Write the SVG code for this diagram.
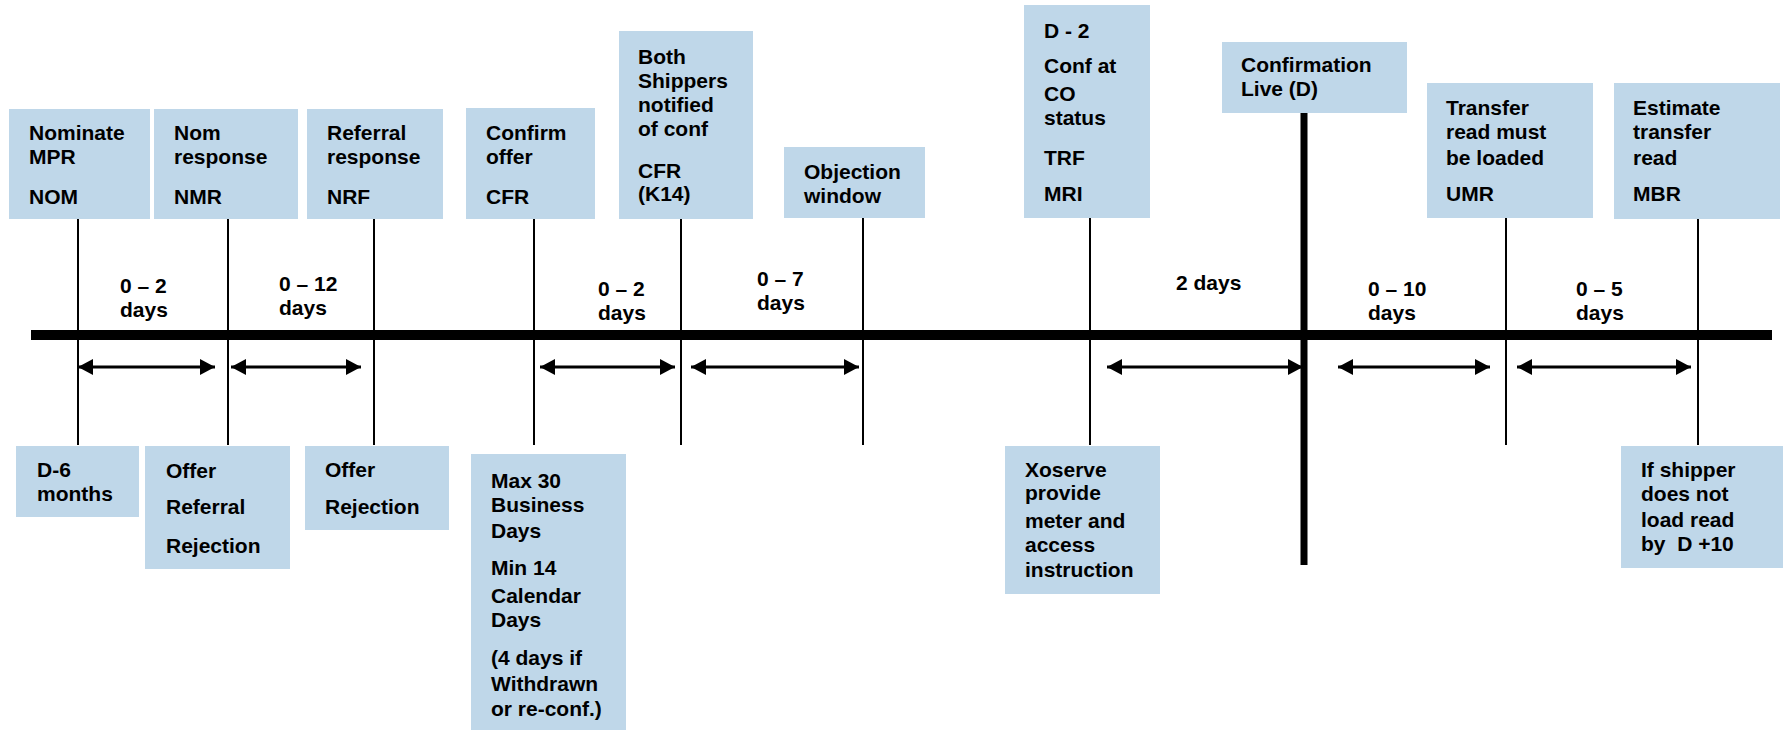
<svg xmlns="http://www.w3.org/2000/svg" width="1785" height="730" viewBox="0 0 1785 730">
<defs>
<style>
.box{fill:#BFD7E9;}
.t{font-family:"Liberation Sans",Arial,sans-serif;font-weight:bold;font-size:21px;fill:#000;}
.vl{stroke:#000;stroke-width:2;fill:none;}
.ar{stroke:#000;stroke-width:3;fill:none;marker-start:url(#ah);marker-end:url(#ah);}
</style>
<marker id="ah" markerUnits="userSpaceOnUse" markerWidth="15" markerHeight="16" viewBox="0 0 15 16" refX="15" refY="8" orient="auto-start-reverse">
<path d="M0,0 L15,8 L0,16 z" fill="#000"/>
</marker>
</defs>
<rect width="1785" height="730" fill="#fff"/>

<g id="connectors">
<line class="vl" x1="78" y1="218" x2="78" y2="445"/>
<line class="vl" x1="228" y1="218" x2="228" y2="445"/>
<line class="vl" x1="374" y1="218" x2="374" y2="445"/>
<line class="vl" x1="534" y1="218" x2="534" y2="445"/>
<line class="vl" x1="681" y1="218" x2="681" y2="445"/>
<line class="vl" x1="863" y1="218" x2="863" y2="445"/>
<line class="vl" x1="1090" y1="218" x2="1090" y2="445"/>
<line class="vl" x1="1506" y1="218" x2="1506" y2="445"/>
<line class="vl" x1="1698" y1="218" x2="1698" y2="445"/>
<rect id="timeline" x="31" y="330" width="1741" height="10" fill="#000"/>
<rect id="d-line" x="1300.5" y="112" width="7" height="453" fill="#000"/>
<line class="ar" x1="78" y1="367" x2="215" y2="367"/>
<line class="ar" x1="231" y1="367" x2="361" y2="367"/>
<line class="ar" x1="540" y1="367" x2="675" y2="367"/>
<line class="ar" x1="691" y1="367" x2="859" y2="367"/>
<line class="ar" x1="1107" y1="367" x2="1303" y2="367"/>
<line class="ar" x1="1338" y1="367" x2="1490" y2="367"/>
<line class="ar" x1="1517" y1="367" x2="1691" y2="367"/>
</g>

<g id="nom">
<rect class="box" x="9" y="109" width="141" height="110"/>
<text class="t" x="29" y="140">Nominate</text>
<text class="t" x="29" y="164">MPR</text>
<text class="t" x="29" y="204">NOM</text>
</g>
<g id="nmr">
<rect class="box" x="154" y="109" width="144" height="110"/>
<text class="t" x="174" y="140">Nom</text>
<text class="t" x="174" y="164">response</text>
<text class="t" x="174" y="204">NMR</text>
</g>
<g id="nrf">
<rect class="box" x="307" y="109" width="136" height="110"/>
<text class="t" x="327" y="140">Referral</text>
<text class="t" x="327" y="164">response</text>
<text class="t" x="327" y="204">NRF</text>
</g>
<g id="cfr">
<rect class="box" x="466" y="108" width="129" height="111"/>
<text class="t" x="486" y="140">Confirm</text>
<text class="t" x="486" y="164">offer</text>
<text class="t" x="486" y="204">CFR</text>
</g>
<g id="k14">
<rect class="box" x="619" y="31" width="134" height="188"/>
<text class="t" x="638" y="64">Both</text>
<text class="t" x="638" y="88">Shippers</text>
<text class="t" x="638" y="112">notified</text>
<text class="t" x="638" y="136">of conf</text>
<text class="t" x="638" y="178">CFR</text>
<text class="t" x="638" y="201">(K14)</text>
</g>
<g id="objection">
<rect class="box" x="784" y="147" width="141" height="71"/>
<text class="t" x="804" y="179">Objection</text>
<text class="t" x="804" y="203">window</text>
</g>
<g id="mri">
<rect class="box" x="1024" y="5" width="126" height="213"/>
<text class="t" x="1044" y="38">D - 2</text>
<text class="t" x="1044" y="73">Conf at</text>
<text class="t" x="1044" y="101">CO</text>
<text class="t" x="1044" y="125">status</text>
<text class="t" x="1044" y="165">TRF</text>
<text class="t" x="1044" y="201">MRI</text>
</g>
<g id="live">
<rect class="box" x="1222" y="42" width="185" height="71"/>
<text class="t" x="1241" y="72">Confirmation</text>
<text class="t" x="1241" y="96">Live (D)</text>
</g>
<g id="umr">
<rect class="box" x="1427" y="83" width="166" height="135"/>
<text class="t" x="1446" y="115">Transfer</text>
<text class="t" x="1446" y="139">read must</text>
<text class="t" x="1446" y="165">be loaded</text>
<text class="t" x="1446" y="201">UMR</text>
</g>
<g id="mbr">
<rect class="box" x="1614" y="83" width="166" height="136"/>
<text class="t" x="1633" y="115">Estimate</text>
<text class="t" x="1633" y="139">transfer</text>
<text class="t" x="1633" y="165">read</text>
<text class="t" x="1633" y="201">MBR</text>
</g>

<g id="intervals">
<text class="t" x="120" y="293">0 – 2</text>
<text class="t" x="120" y="317">days</text>
<text class="t" x="279" y="291">0 – 12</text>
<text class="t" x="279" y="315">days</text>
<text class="t" x="598" y="296">0 – 2</text>
<text class="t" x="598" y="320">days</text>
<text class="t" x="757" y="286">0 – 7</text>
<text class="t" x="757" y="310">days</text>
<text class="t" x="1176" y="290">2 days</text>
<text class="t" x="1368" y="296">0 – 10</text>
<text class="t" x="1368" y="320">days</text>
<text class="t" x="1576" y="296">0 – 5</text>
<text class="t" x="1576" y="320">days</text>
</g>

<g id="d6">
<rect class="box" x="16" y="446" width="123" height="71"/>
<text class="t" x="37" y="477">D-6</text>
<text class="t" x="37" y="501">months</text>
</g>
<g id="offer-referral">
<rect class="box" x="145" y="446" width="145" height="123"/>
<text class="t" x="166" y="478">Offer</text>
<text class="t" x="166" y="514">Referral</text>
<text class="t" x="166" y="553">Rejection</text>
</g>
<g id="offer-rejection">
<rect class="box" x="305" y="446" width="144" height="84"/>
<text class="t" x="325" y="477">Offer</text>
<text class="t" x="325" y="514">Rejection</text>
</g>
<g id="max30">
<rect class="box" x="471" y="454" width="155" height="276"/>
<text class="t" x="491" y="488">Max 30</text>
<text class="t" x="491" y="512">Business</text>
<text class="t" x="491" y="538">Days</text>
<text class="t" x="491" y="575">Min 14</text>
<text class="t" x="491" y="603">Calendar</text>
<text class="t" x="491" y="627">Days</text>
<text class="t" x="491" y="665">(4 days if</text>
<text class="t" x="491" y="691">Withdrawn</text>
<text class="t" x="491" y="716">or re-conf.)</text>
</g>
<g id="xoserve">
<rect class="box" x="1005" y="446" width="155" height="148"/>
<text class="t" x="1025" y="477">Xoserve</text>
<text class="t" x="1025" y="500">provide</text>
<text class="t" x="1025" y="528">meter and</text>
<text class="t" x="1025" y="552">access</text>
<text class="t" x="1025" y="577">instruction</text>
</g>
<g id="if-shipper">
<rect class="box" x="1621" y="446" width="162" height="122"/>
<text class="t" x="1641" y="477">If shipper</text>
<text class="t" x="1641" y="501">does not</text>
<text class="t" x="1641" y="527">load read</text>
<text class="t" x="1641" y="551" xml:space="preserve">by  D +10</text>
</g>
</svg>
